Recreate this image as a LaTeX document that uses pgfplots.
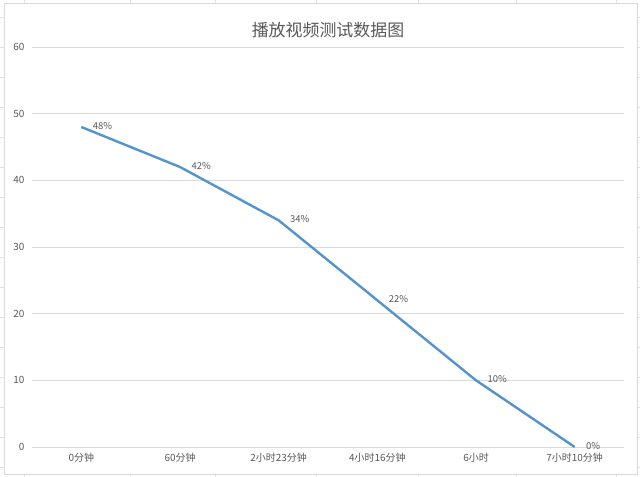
\documentclass[border=0pt]{standalone}
\usepackage{pgfplots}
\pgfplotsset{compat=1.18}
\usepackage{fontspec}
\setmainfont{Noto Sans CJK SC}
\definecolor{linecol}{RGB}{84,148,206}
\definecolor{txtcol}{RGB}{89,89,89}
\definecolor{gridcol}{RGB}{217,217,217}
\definecolor{cellcol}{RGB}{225,225,225}

\begin{document}
\begin{tikzpicture}
% page: 640x477 px, axis south west at px (32,447)
\path[use as bounding box] (-32bp,-30bp) rectangle (608bp,447bp);
% spreadsheet cells outside the chart
\foreach \x in {-8,98,183,284,386,484,584} \draw[cellcol,line width=0.6bp] (\x bp,-30bp) -- (\x bp,447bp);
\foreach \y in {-20,10,40,70,100,130,160,190,220,250,280,310,340,370,400,430} \draw[cellcol,line width=0.6bp] (-32bp,\y bp) -- (608bp,\y bp);
\fill[white] (-28bp,-27bp) rectangle (605bp,444bp);
\draw[gridcol,line width=0.8bp] (-28bp,-27bp) rectangle (605bp,444bp);
\begin{axis}[
  at={(0,0)}, anchor=south west,
  scale only axis, width=592bp, height=400bp,
  xmin=-0.5, xmax=5.5, ymin=0, ymax=60,
  ytick={0,10,...,60},
  xtick={0,...,5},
  xticklabels={0分钟,60分钟,2小时23分钟,4小时16分钟,6小时,7小时10分钟},
  axis line style={draw=none},
  axis x line*=bottom,
  x axis line style={draw=gridcol, line width=0.8bp},
  tick style={draw=none},
  ymajorgrids, grid style={gridcol, line width=0.8bp},
  tick label style={font=\fontsize{10}{11}\selectfont, text=txtcol},
  /pgf/number format/assume math mode=true,
  yticklabel style={xshift=-4bp},
  xticklabel style={yshift=-3bp},
  title={播放视频测试数据图},
  title style={font=\fontsize{17}{19}\selectfont, text=txtcol, yshift=0bp},
  clip=false,
  nodes near coords={\pgfmathprintnumber{\pgfplotspointmeta}\%},
  nodes near coords style={font=\fontsize{9.5}{10}\selectfont, text=txtcol, anchor=west, xshift=7bp, yshift=1bp},
]
\addplot[linecol, line width=2.4bp, mark=none] coordinates {
(0,48) (1,42) (2,34) (3,22) (4,10) (5,0)
};
\end{axis}
\end{tikzpicture}
\end{document}
